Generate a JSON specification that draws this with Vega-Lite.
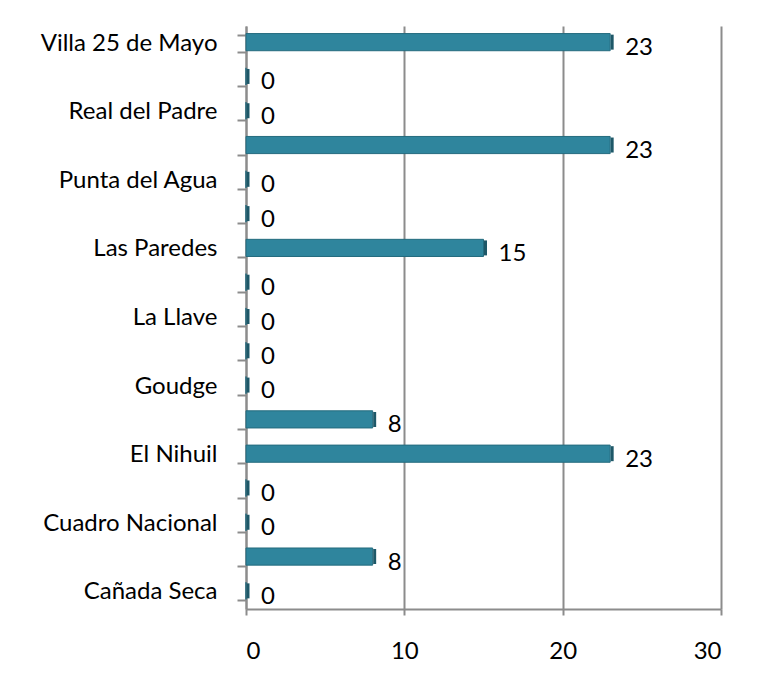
{
  "$schema": "https://vega.github.io/schema/vega-lite/v6.json",
  "width": 475,
  "height": 583,
  "autosize": {"type": "none"},
  "padding": {"left": 246, "top": 26, "right": 44, "bottom": 80},
  "background": "white",
  "config": {
    "view": {"stroke": null},
    "font": "Lato"
  },
  "data": {
    "values": [
      {"distrito": "Villa 25 de Mayo", "valor": 23},
      {"distrito": "Salto de las Rosas", "valor": 0},
      {"distrito": "Real del Padre", "valor": 0},
      {"distrito": "Rama Caída", "valor": 23},
      {"distrito": "Punta del Agua", "valor": 0},
      {"distrito": "Monte Comán", "valor": 0},
      {"distrito": "Las Paredes", "valor": 15},
      {"distrito": "Las Malvinas", "valor": 0},
      {"distrito": "La Llave", "valor": 0},
      {"distrito": "Jaime Prats", "valor": 0},
      {"distrito": "Goudge", "valor": 0},
      {"distrito": "El Sosneado", "valor": 8},
      {"distrito": "El Nihuil", "valor": 23},
      {"distrito": "El Cerrito", "valor": 0},
      {"distrito": "Cuadro Nacional", "valor": 0},
      {"distrito": "Cuadro Benegas", "valor": 8},
      {"distrito": "Cañada Seca", "valor": 0}
    ]
  },
  "encoding": {
    "y": {
      "field": "distrito",
      "type": "nominal",
      "sort": null,
      "scale": {"paddingInner": 0.5, "paddingOuter": 0.25},
      "axis": {
        "title": null,
        "labelExpr": "indexof(['Villa 25 de Mayo','Real del Padre','Punta del Agua','Las Paredes','La Llave','Goudge','El Nihuil','Cuadro Nacional','Cañada Seca'], datum.label) >= 0 ? datum.label : ''",
        "labelFont": "Lato",
        "labelFontSize": 24,
        "labelColor": "#000000",
        "labelPadding": 20,
        "labelLimit": 300,
        "tickBand": "extent",
        "tickSize": 9,
        "tickColor": "#8c8c8c",
        "tickWidth": 2,
        "domainColor": "#8c8c8c",
        "domainWidth": 2,
        "grid": false
      }
    },
    "x": {
      "field": "valor",
      "type": "quantitative",
      "scale": {"domain": [0, 30], "nice": false},
      "axis": {
        "title": null,
        "values": [0, 10, 20, 30],
        "labelFont": "Lato",
        "labelFontSize": 24,
        "labelColor": "#000000",
        "labelPadding": 24,
        "tickSize": 6,
        "tickColor": "#8c8c8c",
        "tickWidth": 2,
        "domainColor": "#8c8c8c",
        "domainWidth": 2,
        "grid": true,
        "gridColor": "#8c8c8c",
        "gridWidth": 2
      }
    }
  },
  "layer": [
    {
      "mark": {"type": "bar", "color": "#2F859D", "stroke": "#246B7E", "strokeWidth": 1, "yOffset": -1}
    },
    {
      "mark": {"type": "tick", "orient": "vertical", "color": "#1E5868", "opacity": 1, "thickness": 3, "size": 15, "xOffset": 2, "yOffset": -1}
    },
    {
      "mark": {"type": "text", "align": "left", "baseline": "middle", "dx": 15, "dy": 5, "fontSize": 24, "font": "Lato", "color": "#000000"},
      "encoding": {"text": {"field": "valor", "type": "quantitative"}}
    }
  ]
}
